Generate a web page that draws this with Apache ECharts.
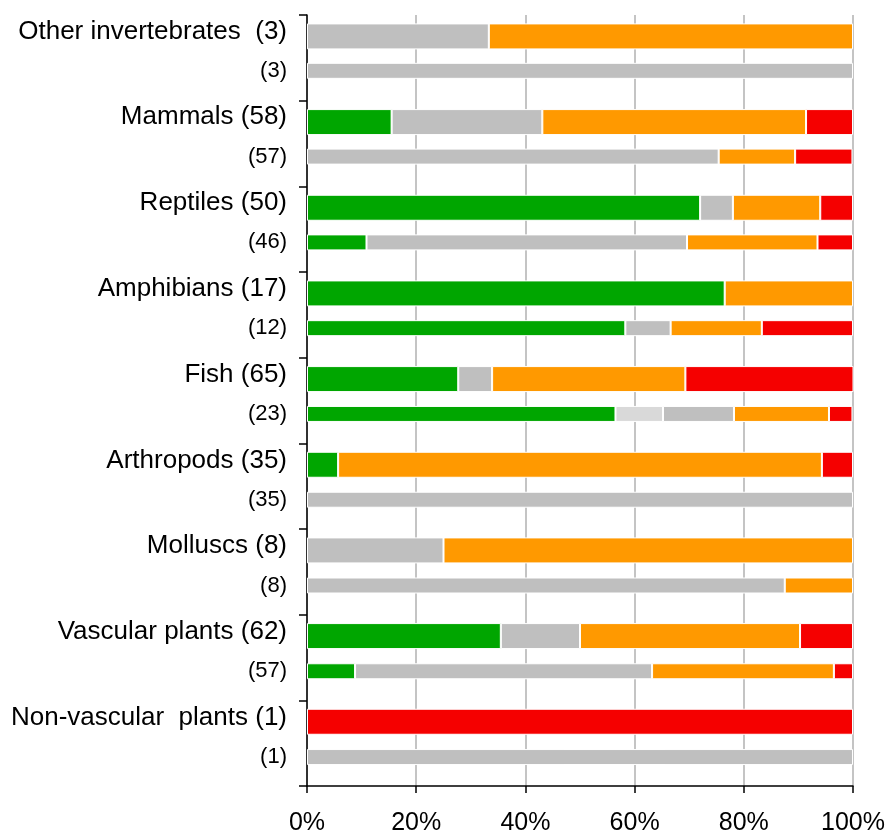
<!DOCTYPE html>
<html>
<head>
<meta charset="utf-8">
<script src="https://cdn.jsdelivr.net/npm/echarts@6/dist/echarts.min.js"></script>
<style>
  html, body { margin: 0; padding: 0; background: #fff; }
  #chart { width: 890px; height: 836px; }
</style>
</head>
<body>
<div id="chart"></div>
<script>
// 行ラベル（偶数行 = 評価対象, 奇数行 = 評価済み件数）
const rows = [
  'Other invertebrates  (3)', '(3)',
  'Mammals (58)', '(57)',
  'Reptiles (50)', '(46)',
  'Amphibians (17)', '(12)',
  'Fish (65)', '(23)',
  'Arthropods (35)', '(35)',
  'Molluscs (8)', '(8)',
  'Vascular plants (62)', '(57)',
  'Non-vascular  plants (1)', '(1)',
];

// 各区分の割合（%）
const green     = [0, 0, 15.5, 0, 72, 10.9, 76.5, 58.3, 27.7, 56.5, 5.7, 0, 0, 0, 35.5, 8.8, 0, 0];
const lightGrey = [0, 0, 0, 0, 0, 0, 0, 0, 0, 8.7, 0, 0, 0, 0, 0, 0, 0, 0];
const grey      = [33.3, 100, 27.6, 75.4, 6, 58.7, 0, 8.3, 6.2, 13.0, 0, 100, 25, 87.5, 14.5, 54.4, 0, 100];
const orange    = [66.7, 0, 48.3, 14.0, 16, 23.9, 23.5, 16.7, 35.4, 17.4, 88.6, 0, 75, 12.5, 40.3, 33.3, 0, 0];
const red       = [0, 0, 8.6, 10.5, 6, 6.5, 0, 16.7, 30.8, 4.3, 5.7, 0, 0, 0, 9.7, 3.5, 100, 0];

const xTicks = [0, 20, 40, 60, 80, 100];

const parts = [
  { data: green, color: '#00a600' },
  { data: lightGrey, color: '#d9d9d9' },
  { data: grey, color: '#bfbfbf' },
  { data: orange, color: '#ff9900' },
  { data: red, color: '#f50000' },
];

const font = "'Liberation Sans', Arial, sans-serif";
const pick = (arr, parity) => arr.map((v, i) => (i % 2 === parity && v > 0 ? v : '-'));

// 同じ行構成のグリッドを3つ重ねる: 0 = 枠と上段バー, 1 = 下段バー, 2 = 上段ラベル
const grids = [
  { left: 307, right: 37, top: 15, height: 772 },
  { left: 307, right: 37, top: 6.5, height: 772 },
  { left: 307, right: 37, top: 10, height: 772 },
];

const hiddenX = (i) => ({
  type: 'value', gridIndex: i, min: 0, max: 100, show: false,
});

const series = [];
parts.forEach((p) => {
  series.push({
    type: 'bar', stack: 'main', xAxisIndex: 0, yAxisIndex: 0,
    barWidth: 26, data: pick(p.data, 0),
    itemStyle: { color: p.color, borderColor: '#fff', borderWidth: 1 },
  });
  series.push({
    type: 'bar', stack: 'sub', xAxisIndex: 1, yAxisIndex: 1,
    barWidth: 16, data: pick(p.data, 1),
    itemStyle: { color: p.color, borderColor: '#fff', borderWidth: 1 },
  });
});

const chart = echarts.init(document.getElementById('chart'), null, { renderer: 'canvas' });
chart.setOption({
  animation: false,
  backgroundColor: '#fff',
  grid: grids,
  xAxis: [
    {
      type: 'value', gridIndex: 0, min: xTicks[0], max: xTicks[xTicks.length - 1], interval: 20,
      axisLine: { show: true, lineStyle: { color: '#000', width: 1.5 } },
      axisTick: { show: true, length: 7, lineStyle: { color: '#000', width: 1.5 } },
      axisLabel: { formatter: '{value}%', fontSize: 25, fontFamily: font, color: '#000', margin: 25 },
      splitLine: { show: true, lineStyle: { color: '#c4c4c4', width: 2 } },
    },
    hiddenX(1),
    hiddenX(2),
  ],
  yAxis: [
    {
      type: 'category', gridIndex: 0, data: rows, inverse: true,
      axisLine: { show: true, lineStyle: { color: '#000', width: 1.5 } },
      axisTick: { show: true, interval: 1, length: 8, lineStyle: { color: '#000', width: 1.5 } },
      axisLabel: { show: false },
    },
    {
      type: 'category', gridIndex: 1, data: rows, inverse: true,
      axisLine: { show: false }, axisTick: { show: false },
      axisLabel: {
        interval: 0, margin: 20, fontSize: 22, fontFamily: font, color: '#000',
        formatter: (v, i) => (i % 2 === 1 ? v : ''),
      },
    },
    {
      type: 'category', gridIndex: 2, data: rows, inverse: true,
      axisLine: { show: false }, axisTick: { show: false },
      axisLabel: {
        interval: 0, margin: 20, fontSize: 26, fontFamily: font, color: '#000',
        formatter: (v, i) => (i % 2 === 0 ? v : ''),
      },
    },
  ],
  series,
});
</script>
</body>
</html>
